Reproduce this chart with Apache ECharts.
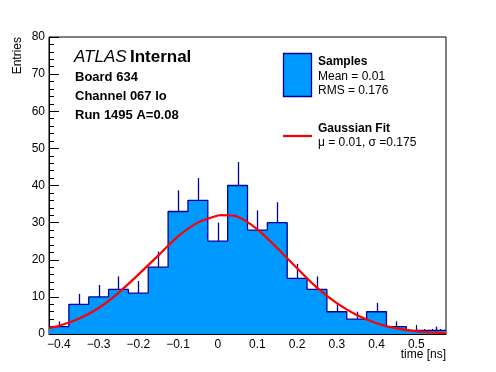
<!DOCTYPE html>
<html>
<head>
<meta charset="utf-8">
<script src="https://cdn.jsdelivr.net/npm/echarts@6/dist/echarts.min.js"></script>
<style>
html,body{margin:0;padding:0;background:#fff;}
#c{width:496px;height:372px;}
</style>
</head>
<body>
<div id="c"></div>
<script>
// ---- data ----
const binCenters = [-0.40,-0.35,-0.30,-0.25,-0.20,-0.15,-0.10,-0.05,0.00,0.05,0.10,0.15,0.20,0.25,0.30,0.35,0.40,0.45,0.50,0.55];
const binWidth = 0.05;
const counts = [2,8,10,12,11,18,33,36,25,40,28,30,15,12,6,4,6,2,1,1];
const errors = [1.4,2.8,3.2,3.5,3.3,4.2,5.7,6.0,5.0,6.3,5.3,5.5,3.9,3.5,2.4,2.0,2.4,1.4,1.0,1.0];
const fitX = [-0.425,-0.40,-0.35,-0.30,-0.25,-0.20,-0.15,-0.10,-0.05,0.00,0.01,0.05,0.10,0.15,0.20,0.25,0.30,0.35,0.40,0.45,0.50,0.55,0.575];
const fitY = [1.6,2.2,4.1,7.0,11.1,16.0,21.1,26.3,30.0,31.9,32.0,31.6,28.2,23.1,17.7,12.5,8.3,5.1,2.9,1.5,0.7,0.35,0.25];
const xTicks = [-0.4,-0.3,-0.2,-0.1,0,0.1,0.2,0.3,0.4,0.5];
const xMin = -0.425, xMax = 0.575;

// ---- derived structures ----
const stepData = binCenters.map((c,i)=>[c-binWidth/2, counts[i]]);
stepData.push([binCenters[binCenters.length-1]+binWidth/2, counts[counts.length-1]]);
const errData = binCenters.map((c,i)=>[c, counts[i], errors[i]]);
const fitData = fitX.map((x,i)=>[x, fitY[i]]);
const minorTicks = [];
for (let k=-21;k<=28;k++){ minorTicks.push(+(k*0.02).toFixed(2)); }

const FONT = '"Liberation Sans", Arial, Helvetica, sans-serif';
const chart = echarts.init(document.getElementById('c'), null, {renderer:'canvas'});
const fmt = v => { return v===0 ? '0' : (v<0 ? '\u2212'+Math.abs(v).toFixed(1) : (+v).toFixed(1)); };

chart.setOption({
  animation:false,
  backgroundColor:'#fff',
  grid:{left:49, top:37, width:397, height:297, show:true, borderColor:'#000', borderWidth:1, backgroundColor:'transparent'},
  xAxis:[{
    type:'value', min:xMin, max:xMax, position:'bottom',
    axisLine:{show:true, onZero:false, lineStyle:{color:'#000', width:1}},
    axisTick:{show:true, inside:true, length:9, customValues:xTicks, lineStyle:{color:'#000'}},
    axisLabel:{show:true, customValues:xTicks, formatter:fmt, color:'#000', fontFamily:FONT, fontSize:12, margin:5},
    splitLine:{show:false}
  },{
    type:'value', min:xMin, max:xMax, position:'bottom', gridIndex:0,
    axisLine:{show:false, onZero:false},
    axisTick:{show:true, inside:true, length:5, customValues:minorTicks, lineStyle:{color:'#000'}},
    axisLabel:{show:false},
    splitLine:{show:false}
  }],
  yAxis:{
    type:'value', min:0, max:80, interval:10, position:'left',
    axisLine:{show:true, onZero:false, lineStyle:{color:'#000', width:1}},
    axisTick:{show:true, inside:true, length:10, lineStyle:{color:'#000'}},
    minorTick:{show:true, splitNumber:5, length:5, lineStyle:{color:'#000'}},
    axisLabel:{color:'#000', fontFamily:FONT, fontSize:12, margin:4},
    splitLine:{show:false}, minorSplitLine:{show:false}
  },
  series:[{
    type:'line', name:'Samples', data:stepData, step:'end', symbol:'none',
    lineStyle:{color:'#000099', width:1.3},
    areaStyle:{color:'#0099ff', opacity:1},
    z:2
  },{
    type:'custom', name:'errors', data:errData, z:3,
    renderItem:function(params, api){
      const p0 = api.coord([api.value(0), api.value(1)]);
      const p1 = api.coord([api.value(0), api.value(1)+api.value(2)]);
      return {type:'line', shape:{x1:Math.round(p0[0])+0.5, y1:p0[1], x2:Math.round(p0[0])+0.5, y2:p1[1]}, style:{stroke:'#000099', lineWidth:1.3}};
    }
  },{
    type:'line', name:'Gaussian Fit', data:fitData, smooth:0.3, symbol:'none',
    lineStyle:{color:'#ff0000', width:2.2}, z:4
  }],
  graphic:[
    {type:'text', x:18, y:37, rotation:Math.PI/2, style:{text:'Entries', font:'12px '+FONT, fill:'#000', align:'right', verticalAlign:'middle'}},
    {type:'text', x:446, y:355, style:{text:'time [ns]', font:'12px '+FONT, fill:'#000', align:'right', verticalAlign:'middle'}},
    {type:'text', x:74, y:57, style:{text:'{a|ATLAS} {b|Internal}', verticalAlign:'middle', rich:{
      a:{font:'italic 17px '+FONT, fill:'#000'}, b:{font:'bold 17px '+FONT, fill:'#000'}}}},
    {type:'text', x:75, y:77, style:{text:'Board 634', font:'bold 13px '+FONT, fill:'#000', verticalAlign:'middle'}},
    {type:'text', x:75, y:96, style:{text:'Channel 067 lo', font:'bold 13px '+FONT, fill:'#000', verticalAlign:'middle'}},
    {type:'text', x:75, y:115, style:{text:'Run 1495 A=0.08', font:'bold 13px '+FONT, fill:'#000', verticalAlign:'middle'}},
    {type:'rect', shape:{x:283.5, y:53.5, width:28, height:43}, style:{fill:'#0099ff', stroke:'#000099', lineWidth:1.3}},
    {type:'text', x:318, y:62, style:{text:'Samples', font:'bold 12px '+FONT, fill:'#000', verticalAlign:'middle'}},
    {type:'text', x:318, y:77, style:{text:'Mean = 0.01', font:'12px '+FONT, fill:'#000', verticalAlign:'middle'}},
    {type:'text', x:318, y:91, style:{text:'RMS = 0.176', font:'12px '+FONT, fill:'#000', verticalAlign:'middle'}},
    {type:'line', shape:{x1:283, y1:136, x2:312, y2:136}, style:{stroke:'#ff0000', lineWidth:2.2}},
    {type:'text', x:318, y:129, style:{text:'Gaussian Fit', font:'bold 12px '+FONT, fill:'#000', verticalAlign:'middle'}},
    {type:'text', x:318, y:143, style:{text:'\u03bc = 0.01, \u03c3 =0.175', font:'12px '+FONT, fill:'#000', verticalAlign:'middle'}}
  ]
});
</script>
</body>
</html>
